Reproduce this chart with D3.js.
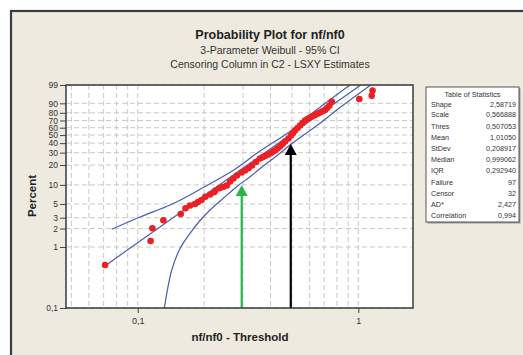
<!DOCTYPE html>
<html><head><meta charset="utf-8">
<script src="https://cdn.jsdelivr.net/npm/d3@7"></script>
<style>html,body{margin:0;padding:0;background:#fff;}svg{display:block;}</style>
</head><body>
<script>
// ---- data ----
const ptsX = [0.0711,0.1143,0.1165,0.1306,0.1566,0.1647,0.1726,0.1818,0.1876,0.1946,0.2025,0.2127,0.2218,0.2241,0.2344,0.2435,0.2532,0.2621,0.2714,0.2818,0.2954,0.3064,0.3179,0.3298,0.3438,0.3584,0.3679,0.3776,0.3877,0.3978,0.4084,0.4191,0.4302,0.4416,0.4533,0.4653,0.4826,0.4953,0.5058,0.5164,0.5302,0.5441,0.5585,0.5733,0.5884,0.6040,0.6199,0.6364,0.6532,0.6705,0.6882,0.7064,0.7211,0.7387,0.7575,1.0105,1.150,1.160];
const ptsP = [0.508,1.25,2.02,2.73,3.44,4.25,4.72,4.98,5.36,5.77,6.52,7.06,7.65,8.10,8.84,9.26,9.78,11.28,12.55,13.94,15.49,16.59,17.91,19.70,22.14,24.84,25.85,26.96,28.00,29.19,30.61,32.07,34.12,36.22,39.02,41.93,45.62,49.43,52.76,56.12,59.58,63.07,66.52,69.98,71.99,74.00,75.70,77.26,78.90,80.36,81.90,83.30,85.47,87.81,91.52,93.37,95.32,97.62];

const fitX = [0.0715, 1.025];
const fitP = [0.5, 99];
const upperX = [0.0762,0.1024,0.1401,0.2019,0.2704,0.3584,0.4901,0.6040,0.9170];
const upperP = [1.95,3.08,4.81,9.43,16.59,31.58,54.74,77.26,99];
const lowerX = [0.1320,0.1426,0.1555,0.1726,0.1916,0.2127,0.2443,0.2810,0.3228,0.3844,0.4416,0.4901,0.6705,0.7985,1.138];
const lowerP = [0.1,0.42,0.945,1.67,2.70,3.99,6.14,9.37,13.38,21.21,29.37,37.89,66.1,83.3,99];

const arrowX = [0.296, 0.494];
const arrowTipP = [10.0, 39.0];
const arrowColors = ["#2bb24c", "#000000"];

const yTicks = [99,90,80,70,60,50,40,30,20,10,5,3,2,1,0.1];
const yTickLabels = ["99","90","80","70","60","50","40","30","20","10","5","3","2","1","0,1"];
const xTicks = [0.1, 1];
const xTickLabels = ["0,1","1"];
const xGrid = [0.05,0.06,0.07,0.08,0.09,0.1,0.2,0.3,0.4,0.5,0.6,0.7,0.8,0.9,1];

const statNames = ["Shape","Scale","Thres","Mean","StDev","Median","IQR","Failure","Censor","AD*","Correlation"];
const statValues = ["2,58719","0,566888","0,507053","1,01050","0,208917","0,999062","0,292940","97","32","2,427","0,994"];

const titleLines = ["Probability Plot for nf/nf0","3-Parameter Weibull - 95% CI","Censoring Column in C2 - LSXY Estimates"];

// ---- layout ----
const W = 523, H = 355;
const L = 66, R = 413, T = 85, B = 308;
const bg = "#eeeae0";
const FONT = "'Liberation Sans', Arial, sans-serif";

const weib = p => Math.log(-Math.log(1 - p/100));
const x = d3.scaleLog().domain([0.04727, 1.770]).range([L, R]);
const yl = d3.scaleLinear().domain([weib(0.1), weib(99)]).range([B, T]);
const y = p => yl(weib(p));

const svg = d3.select("body").append("svg").attr("width", W).attr("height", H);
svg.append("rect").attr("width", W).attr("height", H).attr("fill", "#fff");
svg.append("rect").attr("x", 11).attr("y", 11).attr("width", 600).attr("height", 400)
  .attr("fill", bg).attr("stroke", "#3c3c3c").attr("stroke-width", 2.2);

// titles
const tsz = [12.5, 10.5, 10.5], ty = [39, 54, 68];
titleLines.forEach((t,i) => svg.append("text").attr("x", 270).attr("y", ty[i])
  .attr("text-anchor","middle").attr("font-family", FONT).attr("font-size", tsz[i])
  .attr("font-weight", i===0 ? "bold" : "normal").attr("fill", i===0 ? "#222" : "#333").text(t));

// plot area
svg.append("rect").attr("x", L).attr("y", T).attr("width", R-L).attr("height", B-T).attr("fill", "#fff");

const clipId = "clipPlot";
svg.append("clipPath").attr("id", clipId).append("rect").attr("x", L).attr("y", T).attr("width", R-L).attr("height", B-T);

const grid = svg.append("g").attr("stroke", "#c9c9c9").attr("stroke-width", 1).attr("stroke-dasharray", "5,3");
xGrid.forEach(v => grid.append("line").attr("x1", x(v)).attr("x2", x(v)).attr("y1", T).attr("y2", B));
yTicks.forEach(v => grid.append("line").attr("x1", L).attr("x2", R).attr("y1", y(v)).attr("y2", y(v)));

// axes
const yAxis = d3.axisLeft(yl).tickValues(yTicks.map(weib)).tickFormat((d,i) => yTickLabels[i]).tickSize(6).tickSizeOuter(0);
const ga = svg.append("g").attr("transform", `translate(${L},0)`).call(yAxis);
ga.select(".domain").remove();
ga.selectAll("line").attr("stroke", "#444");
ga.selectAll("text").attr("font-family", FONT).attr("font-size", 8.5).attr("fill", "#333").attr("dx", 1);

const xAxis = d3.axisBottom(x).tickValues(xTicks).tickFormat((d,i) => xTickLabels[i]).tickSize(5).tickSizeOuter(0);
const gx = svg.append("g").attr("transform", `translate(0,${B})`).call(xAxis);
gx.select(".domain").remove();
gx.selectAll("line").attr("stroke", "#444");
gx.selectAll("text").attr("font-family", FONT).attr("font-size", 9).attr("fill", "#333").attr("dy", "0.9em");

// axis labels
svg.append("text").attr("x", 240).attr("y", 341).attr("text-anchor","middle")
  .attr("font-family", FONT).attr("font-size", 11.5).attr("font-weight","bold").attr("fill","#222").text("nf/nf0 - Threshold");
svg.append("text").attr("transform", "translate(36,196) rotate(-90)").attr("text-anchor","middle")
  .attr("font-family", FONT).attr("font-size", 11.5).attr("font-weight","bold").attr("fill","#222").text("Percent");

// lines
const lineGen = d3.line().x(d => x(d[0])).y(d => y(d[1]));
const lg = svg.append("g").attr("clip-path", `url(#${clipId})`).attr("fill","none").attr("stroke","#4a5db0").attr("stroke-width", 1.2);
lg.append("path").attr("d", lineGen(fitX.map((v,i)=>[v,fitP[i]])));
lg.append("path").attr("d", d3.line().curve(d3.curveMonotoneY).x(d=>x(d[0])).y(d=>y(d[1]))(upperX.map((v,i)=>[v,upperP[i]])));
lg.append("path").attr("d", d3.line().curve(d3.curveCatmullRom).x(d=>x(d[0])).y(d=>y(d[1]))(lowerX.map((v,i)=>[v,lowerP[i]])));

// points
svg.append("g").selectAll("circle").data(ptsX).join("circle")
  .attr("cx", d => x(d)).attr("cy", (d,i) => y(ptsP[i])).attr("r", 3.3).attr("fill", "#ec2024");

// arrows
arrowX.forEach((v,i) => {
  const ax = x(v), tip = y(arrowTipP[i]);
  svg.append("line").attr("x1", ax).attr("x2", ax).attr("y1", B).attr("y2", tip + 8)
    .attr("stroke", arrowColors[i]).attr("stroke-width", 2.2);
  svg.append("path").attr("d", `M${ax},${tip} L${ax-6},${tip+11} L${ax+6},${tip+11} Z`).attr("fill", arrowColors[i]);
});

// plot border
svg.append("rect").attr("x", L).attr("y", T).attr("width", R-L).attr("height", B-T)
  .attr("fill","none").attr("stroke","#3a3a3a").attr("stroke-width", 1.5);

// stats table
const sx = 426, sy = 87, sw = 93, sh = 135;
svg.append("rect").attr("x", sx+1.5).attr("y", sy+1.5).attr("width", sw).attr("height", sh).attr("fill", "#9a9a9a");
svg.append("rect").attr("x", sx).attr("y", sy).attr("width", sw).attr("height", sh).attr("fill", "#fff").attr("stroke", "#555").attr("stroke-width", 1);
svg.append("text").attr("x", sx + sw/2).attr("y", sy + 10).attr("text-anchor","middle")
  .attr("font-family", FONT).attr("font-size", 7.2).attr("fill","#333").text("Table of Statistics");
const rowY = [104,114.5,126,137,148.5,159.5,170,182,193,204,215.5];
statNames.forEach((n,i) => {
  svg.append("text").attr("x", sx + 5).attr("y", rowY[i] + 2.5).attr("font-family", FONT).attr("font-size", 7.2).attr("fill","#333").text(n);
  svg.append("text").attr("x", sx + sw - 3).attr("y", rowY[i] + 2.5).attr("text-anchor","end").attr("font-family", FONT).attr("font-size", 7.2).attr("fill","#333").text(statValues[i]);
});
</script>
</body></html>
